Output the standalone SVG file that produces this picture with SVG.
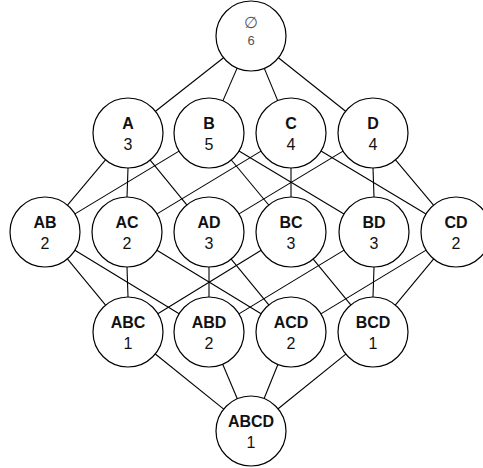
<svg xmlns="http://www.w3.org/2000/svg" width="483" height="468" viewBox="0 0 483 468">
<style>
circle{fill:#fff;stroke:#000;stroke-width:1.2}
.e line{stroke:#000;stroke-width:1.1}
text{font-family:"Liberation Sans",Arial,sans-serif;text-anchor:middle;fill:#111}
.l{font-size:16px;font-weight:bold}
.n{font-size:16px}
.g{font-size:13px;fill:#555}
.gs{font-size:16px;fill:#555}
</style>
<rect width="483" height="468" fill="#fff"/>
<g class="e" id="edges">
<line x1="223.5" y1="57.7" x2="155.5" y2="111.3"/>
<line x1="237.1" y1="68.1" x2="222.9" y2="100.9"/>
<line x1="264.3" y1="68.4" x2="277.7" y2="100.6"/>
<line x1="278.4" y1="57.8" x2="345.6" y2="111.2"/>
<line x1="105.5" y1="159.8" x2="67.5" y2="205.2"/>
<line x1="128" y1="168" x2="127" y2="197"/>
<line x1="150.2" y1="160.1" x2="186.8" y2="204.9"/>
<line x1="179" y1="151.1" x2="75" y2="213.9"/>
<line x1="231.3" y1="160" x2="268.7" y2="205"/>
<line x1="239" y1="151" x2="344" y2="214"/>
<line x1="261" y1="151.1" x2="157" y2="213.9"/>
<line x1="291" y1="168" x2="291" y2="197"/>
<line x1="321" y1="151" x2="426" y2="214"/>
<line x1="343" y1="151.1" x2="239" y2="213.9"/>
<line x1="373" y1="168" x2="374" y2="197"/>
<line x1="395.5" y1="159.8" x2="433.5" y2="205.2"/>
<line x1="67.4" y1="258.9" x2="105.6" y2="305.1"/>
<line x1="74.9" y1="250.2" x2="179.1" y2="313.8"/>
<line x1="127" y1="267" x2="128" y2="297"/>
<line x1="156.9" y1="250.2" x2="261.1" y2="313.8"/>
<line x1="209" y1="267" x2="209" y2="297"/>
<line x1="231.2" y1="259.1" x2="268.8" y2="304.9"/>
<line x1="261.2" y1="250.3" x2="157.8" y2="313.7"/>
<line x1="313.2" y1="259.1" x2="350.8" y2="304.9"/>
<line x1="344.1" y1="250.1" x2="238.9" y2="313.9"/>
<line x1="374" y1="267" x2="373" y2="297"/>
<line x1="426.1" y1="250.1" x2="320.9" y2="313.9"/>
<line x1="433.7" y1="258.9" x2="395.3" y2="305.1"/>
<line x1="155.3" y1="354" x2="223.7" y2="409.1"/>
<line x1="222.7" y1="364.2" x2="237.3" y2="398.8"/>
<line x1="277.9" y1="364.5" x2="264.1" y2="398.5"/>
<line x1="345.8" y1="354.1" x2="277.8" y2="409"/>
</g>
<g id="empty"><circle cx="251" cy="36" r="35"/><text class="gs" x="251" y="28">∅</text><text class="g" x="251" y="45">6</text></g>
<g id="A"><circle cx="128" cy="133" r="35"/><text class="l" x="128" y="129">A</text><text class="n" x="128" y="150">3</text></g>
<g id="B"><circle cx="209" cy="133" r="35"/><text class="l" x="209" y="129">B</text><text class="n" x="209" y="150">5</text></g>
<g id="C"><circle cx="291" cy="133" r="35"/><text class="l" x="291" y="129">C</text><text class="n" x="291" y="150">4</text></g>
<g id="D"><circle cx="373" cy="133" r="35"/><text class="l" x="373" y="129">D</text><text class="n" x="373" y="150">4</text></g>
<g id="AB"><circle cx="45" cy="232" r="35"/><text class="l" x="45" y="228">AB</text><text class="n" x="45" y="249">2</text></g>
<g id="AC"><circle cx="127" cy="232" r="35"/><text class="l" x="127" y="228">AC</text><text class="n" x="127" y="249">2</text></g>
<g id="AD"><circle cx="209" cy="232" r="35"/><text class="l" x="209" y="228">AD</text><text class="n" x="209" y="249">3</text></g>
<g id="BC"><circle cx="291" cy="232" r="35"/><text class="l" x="291" y="228">BC</text><text class="n" x="291" y="249">3</text></g>
<g id="BD"><circle cx="374" cy="232" r="35"/><text class="l" x="374" y="228">BD</text><text class="n" x="374" y="249">3</text></g>
<g id="CD"><circle cx="456" cy="232" r="35"/><text class="l" x="456" y="228">CD</text><text class="n" x="456" y="249">2</text></g>
<g id="ABC"><circle cx="128" cy="332" r="35"/><text class="l" x="128" y="328">ABC</text><text class="n" x="128" y="349">1</text></g>
<g id="ABD"><circle cx="209" cy="332" r="35"/><text class="l" x="209" y="328">ABD</text><text class="n" x="209" y="349">2</text></g>
<g id="ACD"><circle cx="291" cy="332" r="35"/><text class="l" x="291" y="328">ACD</text><text class="n" x="291" y="349">2</text></g>
<g id="BCD"><circle cx="373" cy="332" r="35"/><text class="l" x="373" y="328">BCD</text><text class="n" x="373" y="349">1</text></g>
<g id="ABCD"><circle cx="251" cy="431" r="35"/><text class="l" x="251" y="427">ABCD</text><text class="n" x="251" y="448">1</text></g>
</svg>
